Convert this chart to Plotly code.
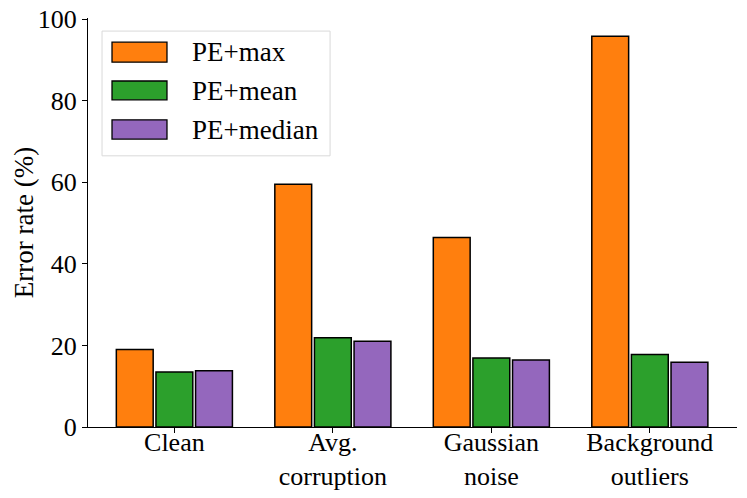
import plotly.graph_objects as go

categories = ["Clean", "Avg.<br>corruption", "Gaussian<br>noise", "Background<br>outliers"]
series_names = ["PE+max", "PE+mean", "PE+median"]
pe_max = [19.0, 59.5, 46.5, 95.8]
pe_mean = [13.5, 21.9, 16.9, 17.8]
pe_median = [13.8, 21.0, 16.4, 15.9]
colors = ["#ff7f0e", "#2ca02c", "#9467bd"]
y_ticks = [0, 20, 40, 60, 80, 100]

FONT = "Liberation Serif, Times New Roman, serif"
FS = 27

fig = go.Figure()
for name, vals, col in zip(series_names, [pe_max, pe_mean, pe_median], colors):
    fig.add_trace(go.Bar(
        x=categories, y=vals, name=name,
        marker=dict(color=col, line=dict(color="black", width=1.5)),
        showlegend=False,
    ))

fig.update_layout(
    width=747, height=498,
    margin=dict(l=88, r=10, t=18, b=71),
    plot_bgcolor="white", paper_bgcolor="white",
    barmode="group", bargap=0.25, bargroupgap=0.07,
    font=dict(family=FONT, size=FS, color="black"),
    xaxis=dict(
        showline=True, linecolor="black", linewidth=1.3,
        ticks="outside", ticklen=5, tickcolor="black",
        tickfont=dict(size=26), showgrid=False, range=[-0.545, 3.55],
        automargin=False, ticklabelstandoff=-13,
    ),
    yaxis=dict(
        showline=True, linecolor="black", linewidth=1.3,
        ticks="outside", ticklen=5, tickcolor="black",
        tickvals=y_ticks, tickfont=dict(size=26), showgrid=False,
        range=[0, 100.3], zeroline=False, automargin=False,
    ),
)

# y-axis title
fig.add_annotation(xref="paper", yref="paper", x=-0.099, y=0.5, text="Error rate (%)",
                   textangle=-90, showarrow=False, xanchor="center", yanchor="middle",
                   font=dict(family=FONT, size=FS, color="black"))

# manual legend (matplotlib style)
fig.add_shape(type="rect", xref="paper", yref="paper",
              x0=0.0216, x1=0.373, y0=0.663, y1=0.968,
              line=dict(color="#d9d9d9", width=1), fillcolor="rgba(255,255,255,0.8)", layer="above")
rows = [(0.941, 0.892, 0.917), (0.846, 0.800, 0.822), (0.751, 0.704, 0.726)]
for (y1, y0, yc), name, col in zip(rows, series_names, colors):
    fig.add_shape(type="rect", xref="paper", yref="paper",
                  x0=0.037, x1=0.1217, y0=y0, y1=y1,
                  line=dict(color="black", width=1.3), fillcolor=col, layer="above")
    fig.add_annotation(xref="paper", yref="paper", x=0.157, y=yc, text=name,
                       showarrow=False, xanchor="left", yanchor="middle",
                       font=dict(family=FONT, size=FS, color="black"))

fig.write_html("out.html", config={"displayModeBar": False},
               post_script="document.body.style.margin='0';document.body.style.overflow='hidden';")
